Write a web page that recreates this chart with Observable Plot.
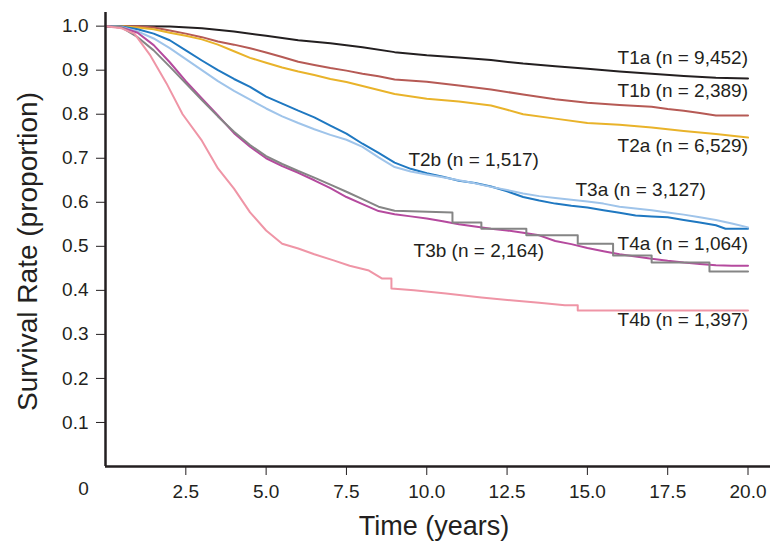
<!DOCTYPE html>
<html>
<head>
<meta charset="utf-8">
<script src="https://cdn.jsdelivr.net/npm/d3@7"></script>
<script src="https://cdn.jsdelivr.net/npm/@observablehq/plot@0.6"></script>
<style>
  html, body { margin: 0; padding: 0; background: #fff; }
  #chart { width: 771px; height: 554px; }
</style>
</head>
<body>
<div id="chart"></div>
<script>
// Kaplan-Meier survival by T category: [time in years, survival proportion]
const t1a = [[0,1],[1,1],[2,0.999],[3,0.995],[4,0.988],[5,0.978],[6,0.968],[7,0.961],[8,0.952],[9,0.941],[10,0.934],[11,0.929],[12,0.923],[13,0.915],[14,0.909],[15,0.903],[16,0.897],[17,0.892],[18,0.887],[19,0.883],[20,0.881]];
const t1b = [[0,1],[1,1],[1.5,0.997],[2,0.99],[2.5,0.983],[3,0.975],[3.5,0.965],[4,0.958],[4.5,0.95],[5,0.94],[5.5,0.93],[6,0.919],[6.5,0.912],[7,0.905],[7.5,0.899],[8,0.892],[8.5,0.886],[9,0.879],[10,0.874],[11,0.865],[12,0.856],[13,0.845],[14,0.834],[15,0.826],[16,0.821],[17,0.817],[17.5,0.812],[18,0.808],[18.5,0.803],[19,0.797],[20,0.797]];
const t2a = [[0,1],[0.5,1],[1,0.997],[1.5,0.993],[2,0.985],[2.5,0.978],[3,0.97],[3.5,0.958],[4,0.943],[4.5,0.928],[5,0.917],[5.5,0.906],[6,0.897],[6.5,0.889],[7,0.88],[7.5,0.873],[8,0.864],[8.5,0.855],[9,0.846],[10,0.835],[11,0.829],[12,0.82],[12.5,0.81],[13,0.8],[14,0.79],[15,0.78],[16,0.776],[17,0.77],[18,0.762],[19,0.755],[20,0.747]];
const t2b = [[0,1],[0.5,0.999],[1,0.993],[1.5,0.983],[2,0.968],[2.5,0.945],[3,0.922],[3.5,0.9],[4,0.88],[4.5,0.862],[5,0.84],[5.5,0.824],[6,0.808],[6.5,0.793],[7,0.774],[7.5,0.756],[8,0.733],[8.5,0.712],[9,0.69],[9.5,0.676],[10,0.666],[10.5,0.658],[11,0.649],[11.5,0.644],[12,0.636],[12.5,0.625],[13,0.612],[13.5,0.604],[14,0.597],[14.5,0.592],[15,0.588],[15.5,0.582],[16,0.576],[16.5,0.57],[17,0.568],[17.5,0.566],[18,0.56],[18.5,0.554],[19,0.548],[19.3,0.54],[20,0.54]];
const t3a = [[0,1],[0.5,0.998],[1,0.988],[1.5,0.972],[2,0.95],[2.5,0.925],[3,0.9],[3.5,0.875],[4,0.853],[4.5,0.833],[5,0.813],[5.5,0.795],[6,0.78],[6.5,0.766],[7,0.753],[7.5,0.742],[8,0.726],[8.5,0.702],[9,0.68],[9.5,0.67],[10,0.663],[10.5,0.657],[11,0.65],[11.5,0.643],[12,0.635],[12.5,0.628],[13,0.62],[13.5,0.614],[14,0.61],[14.5,0.606],[15,0.602],[15.5,0.597],[16,0.59],[16.5,0.586],[17,0.582],[17.5,0.577],[18,0.572],[18.5,0.566],[19,0.56],[19.5,0.552],[20,0.543]];
const t3b = [[0,1],[0.5,0.997],[1,0.985],[1.5,0.957],[2,0.918],[2.5,0.875],[3,0.836],[3.5,0.797],[4,0.757],[4.5,0.726],[5,0.7],[5.5,0.682],[6,0.667],[6.5,0.65],[7,0.632],[7.5,0.612],[8,0.596],[8.5,0.58],[9,0.573],[9.5,0.568],[10,0.563],[10.5,0.557],[11,0.55],[11.5,0.545],[12,0.54],[12.5,0.536],[13,0.531],[13.5,0.525],[14,0.512],[14.5,0.505],[15,0.496],[15.5,0.489],[16,0.482],[16.5,0.477],[17,0.472],[17.5,0.467],[18,0.463],[18.5,0.46],[19,0.457],[19.5,0.456],[20,0.456]];
const t4a = [[0,1],[0.5,0.997],[1,0.975],[1.5,0.945],[2,0.908],[2.5,0.87],[3,0.832],[3.5,0.795],[4,0.76],[4.5,0.73],[5,0.705],[5.5,0.687],[6,0.671],[6.5,0.656],[7,0.64],[7.5,0.624],[8,0.607],[8.5,0.59],[9,0.581],[10.8,0.577],[10.8,0.554],[11.7,0.554],[11.7,0.54],[13.1,0.54],[13.1,0.525],[14.7,0.525],[14.7,0.506],[15.8,0.506],[15.8,0.479],[17.0,0.479],[17.0,0.463],[18.8,0.463],[18.8,0.443],[20,0.443]];
const t4b = [[0,1],[0.5,0.995],[0.9,0.983],[1.4,0.933],[1.9,0.87],[2.4,0.8],[3.0,0.74],[3.5,0.677],[4.0,0.631],[4.5,0.577],[5.0,0.536],[5.5,0.506],[6.0,0.495],[6.5,0.482],[7.1,0.468],[7.6,0.456],[8.2,0.445],[8.6,0.427],[8.9,0.427],[8.9,0.404],[9.6,0.4],[10.6,0.393],[11.7,0.384],[12.7,0.377],[13.5,0.372],[14.3,0.366],[14.7,0.366],[14.7,0.354],[20,0.354]];

// Group names, patient counts and line colours
const groups = ["T1a", "T1b", "T2a", "T2b", "T3a", "T3b", "T4a", "T4b"];
const counts = ["9,452", "2,389", "6,529", "1,517", "3,127", "2,164", "1,064", "1,397"];
const colors = ["#231f20", "#b65a55", "#e9b32a", "#1f78c1", "#9fc4ea", "#b54a9e", "#858585", "#ef95a6"];
const series = [t1a, t1b, t2a, t2b, t3a, t3b, t4a, t4b];

// Axis ticks
const xTicks = [2.5, 5, 7.5, 10, 12.5, 15, 17.5, 20];
const yTicks = [0.1, 0.2, 0.3, 0.4, 0.5, 0.6, 0.7, 0.8, 0.9, 1.0];

const rows = series.flatMap((pts, i) => pts.map(([t, s]) => ({group: groups[i], t, s})));

// Where each curve's label sits (data coordinates) and which side it hangs from
const labelPlacement = [
  {t: 20, s: 0.927, anchor: "end"},
  {t: 20, s: 0.852, anchor: "end"},
  {t: 20, s: 0.727, anchor: "end"},
  {t: 9.43, s: 0.697, anchor: "start"},
  {t: 14.63, s: 0.627, anchor: "start"},
  {t: 9.59, s: 0.49, anchor: "start"},
  {t: 20, s: 0.506, anchor: "end"},
  {t: 20, s: 0.332, anchor: "end"}
];
const labels = groups.map((g, i) => ({text: `${g} (n = ${counts[i]})`, ...labelPlacement[i]}));

const ink = "#231f20";
const font = "'Liberation Sans', Arial, Helvetica, sans-serif";

const chart = Plot.plot({
  width: 771,
  height: 554,
  marginLeft: 105,
  marginRight: 1,
  marginTop: 12,
  marginBottom: 88,
  style: {fontFamily: font, fontSize: "19px", color: ink, background: "#fff"},
  x: {domain: [0, 20.7], ticks: xTicks, tickFormat: d => d.toFixed(1), tickSize: 9, tickPadding: 9, label: null},
  y: {domain: [0, 1.031], ticks: yTicks, tickFormat: d => d.toFixed(1), tickSize: 9, tickPadding: 8, label: null},
  color: {domain: groups, range: colors},
  marks: [
    Plot.line(rows, {x: "t", y: "s", z: "group", stroke: "group", strokeWidth: 2, strokeLinejoin: "round"}),
    Plot.text(labels.filter(d => d.anchor === "end"), {x: "t", y: "s", text: "text", textAnchor: "end", fill: ink, fontSize: 19}),
    Plot.text(labels.filter(d => d.anchor === "start"), {x: "t", y: "s", text: "text", textAnchor: "start", fill: ink, fontSize: 19}),
    Plot.ruleX([0], {stroke: ink, strokeWidth: 2.5}),
    Plot.ruleY([0], {stroke: ink, strokeWidth: 2.5}),
    Plot.text(["0"], {frameAnchor: "bottom-left", textAnchor: "middle", dx: -22, dy: 28, fill: ink, fontSize: 19}),
    Plot.text(["Time (years)"], {frameAnchor: "bottom", textAnchor: "middle", dx: -4, dy: 68, fill: ink, fontSize: 27}),
    Plot.text(["Survival Rate (proportion)"], {frameAnchor: "left", textAnchor: "middle", dx: -77, dy: 12, rotate: -90, fill: ink, fontSize: 28})
  ]
});

document.getElementById("chart").appendChild(chart);
</script>
</body>
</html>
